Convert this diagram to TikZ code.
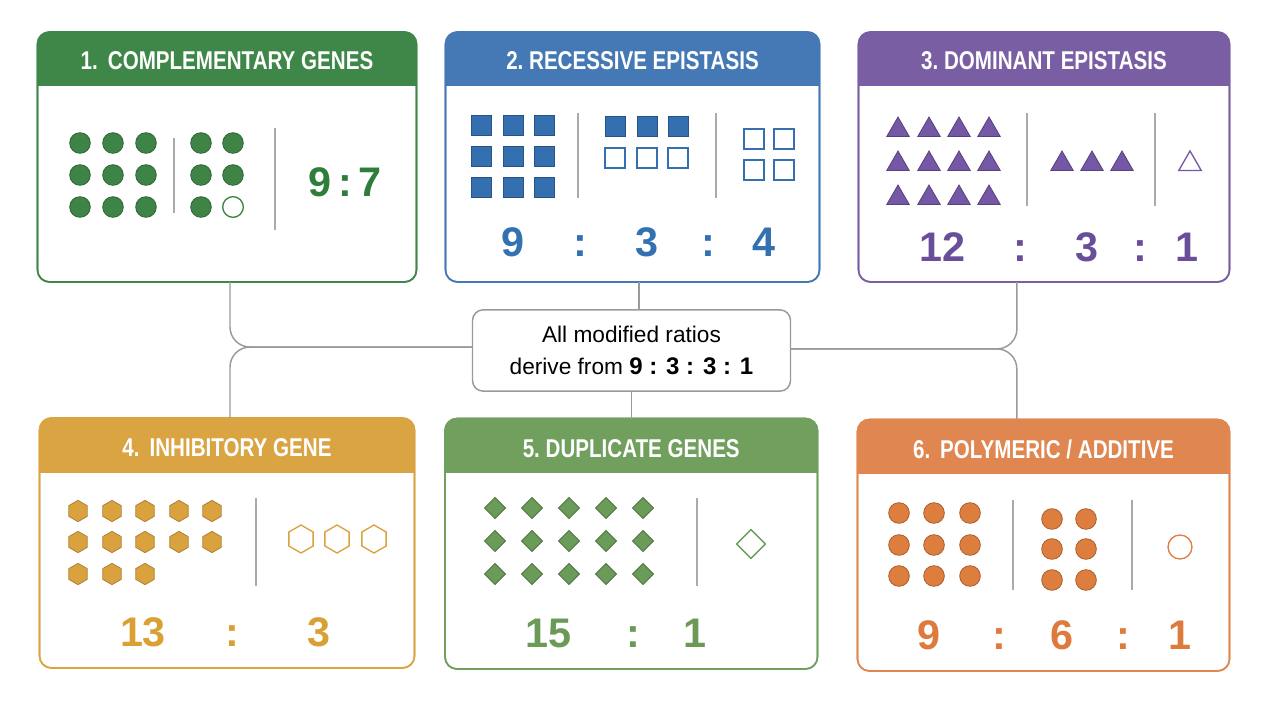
\documentclass[tikz,border=0pt]{standalone}
\usepackage{fontspec}
\setmainfont{Liberation Sans}
\newfontfamily\hdfont[FakeStretch=0.8]{Liberation Sans}
\usetikzlibrary{shapes.geometric,calc}

\definecolor{hA}{HTML}{3F8748}
\definecolor{hB}{HTML}{4479B5}
\definecolor{hC}{HTML}{7A5EA4}
\definecolor{hD}{HTML}{DAA443}
\definecolor{hE}{HTML}{719F5E}
\definecolor{hF}{HTML}{E08650}
\definecolor{nA}{HTML}{2E7D3A}
\definecolor{nB}{HTML}{3471B0}
\definecolor{nC}{HTML}{6A4E9A}
\definecolor{nD}{HTML}{D9A033}
\definecolor{nE}{HTML}{6A9A55}
\definecolor{nF}{HTML}{DD7A3C}
\definecolor{sA}{HTML}{3E8446}
\definecolor{sB}{HTML}{3470B0}
\definecolor{sC}{HTML}{7558A5}
\definecolor{sD}{HTML}{D9A23E}
\definecolor{sE}{HTML}{6B9B58}
\definecolor{sF}{HTML}{DE7E3E}
\definecolor{conngray}{HTML}{9A9A9A}
\definecolor{sepgray}{HTML}{AAAAAA}

\tikzset{
  panelbox/.style={draw=#1, line width=1.2pt, rounded corners=9pt, fill=white, inner sep=0pt, outer sep=0pt},
  hdtext/.style={text=white, font=\hdfont\bfseries\fontsize{19.3}{19.3}\selectfont, inner sep=0pt},
  num/.style={text=#1, font=\bfseries\fontsize{31}{31}\selectfont, inner sep=0pt, text height=22pt, text depth=0pt},
  conn/.style={draw=conngray, line width=1.1pt, rounded corners=15pt},
  sepline/.style={draw=sepgray, line width=1.1pt},
  centerbox/.style={draw=conngray, line width=1.1pt, rounded corners=8pt, fill=white, align=center,
     minimum width=238.5pt, minimum height=61pt, inner sep=0pt, font=\fontsize{17}{23.5}\selectfont},
  fcirc/.style={circle, fill=s#1, draw=s#1!75!black, line width=0.6pt, minimum size=15.5pt, inner sep=0pt},
  ocirc/.style={circle, fill=white, draw=s#1, line width=1pt, minimum size=15.5pt, inner sep=0pt},
  fsq/.style={rectangle, fill=s#1, draw=s#1!75!black, line width=0.6pt, minimum size=15pt, inner sep=0pt},
  osq/.style={rectangle, fill=white, draw=s#1, line width=1pt, minimum size=15pt, inner sep=0pt},
  ftri/.style={regular polygon, regular polygon sides=3, fill=s#1, draw=s#1!75!black, line width=0.6pt, minimum size=19.5pt, inner sep=0pt},
  otri/.style={regular polygon, regular polygon sides=3, fill=white, draw=s#1, line width=1pt, minimum size=19.5pt, inner sep=0pt},
  fhex/.style={regular polygon, regular polygon sides=6, shape border rotate=30, fill=s#1, draw=s#1!80!black, line width=0.6pt, minimum size=16pt, inner sep=0pt},
  ohex/.style={regular polygon, regular polygon sides=6, shape border rotate=30, fill=white, draw=s#1, line width=1pt, minimum size=21pt, inner sep=0pt},
  fdia/.style={diamond, fill=s#1, draw=s#1!75!black, line width=0.6pt, minimum size=16pt, inner sep=0pt},
  odia/.style={diamond, fill=white, draw=s#1, line width=1pt, minimum size=22pt, inner sep=0pt},
}

% name, x1, y1, x2, y2, header bottom, colour, title, title y
\newcommand\mkpanel[9]{%
  \node[panelbox=#7, minimum width={(#4-#2)*0.75pt}, minimum height={(#5-#3)*0.75pt}] (#1) at ({(#2+#4)/2},{(#3+#5)/2}) {};
  \begin{scope}
    \clip[rounded corners=9pt] (#2,#3) rectangle (#4,#5);
    \fill[#7] (#2,#3) rectangle (#4,#6);
  \end{scope}
  \draw[#7, line width=1.2pt, rounded corners=9pt] (#1.south west) rectangle (#1.north east);
  \node[hdtext] (#1-title) at ({(#2+#4)/2},#9) {#8};
}

\begin{document}
\begin{tikzpicture}[x=0.75pt,y=-0.75pt]
\useasboundingbox (0,0) rectangle (1280,720);
\fill[white] (0,0) rectangle (1280,720);

% centre box
\node[centerbox] (c) at (631.5,350.5) {All modified ratios\\derive from {\bfseries\fontsize{18}{23.5}\selectfont 9 : 3 : 3 : 1}};

% panels
\mkpanel{p1}{37.5}{32}{416.5}{282}{86}{hA}{1.\,~COMPLEMENTARY GENES}{61}
\mkpanel{p2}{445.5}{32}{819.5}{282}{86}{hB}{2.~RECESSIVE EPISTASIS}{61}
\mkpanel{p3}{858.5}{32}{1229.5}{282}{86}{hC}{3.~DOMINANT EPISTASIS}{61}
\mkpanel{p4}{39.5}{418}{414.5}{668}{473}{hD}{4.\,~INHIBITORY GENE}{448}
\mkpanel{p5}{445}{418.5}{817.5}{669}{473}{hE}{5.~DUPLICATE GENES}{449}
\mkpanel{p6}{857.5}{419.5}{1229.5}{671}{474}{hF}{6.\,~POLYMERIC / ADDITIVE}{449}

% connectors
\draw[conn] ([xshift=2.25pt]p1.south) |- ([yshift=2.6pt]c.west);
\draw[conn] ([xshift=2.25pt]p4.north) |- ([yshift=2.6pt]c.west);
\draw[conn] ([xshift=4.9pt]p2.south) -- ([xshift=4.9pt]p2.south |- c.north);
\draw[conn] ([xshift=-20.3pt]p3.south) |- ([yshift=1.2pt]c.east);
\draw[conn] ([xshift=-20pt]p6.north) |- ([yshift=1.2pt]c.east);
\draw[conn] (c.south) -- (c.south |- p5.north);

% ---- panel 1
\foreach \x [count=\i] in {80,113,146}
  \foreach \y [count=\j] in {143,175,207}
    \node[fcirc=A] (a1-\i-\j) at (\x,\y) {};
\foreach \y [count=\j] in {143,175,207} \node[fcirc=A] (a2-1-\j) at (201,\y) {};
\foreach \y [count=\j] in {143,175} \node[fcirc=A] (a2-2-\j) at (233,\y) {};
\node[ocirc=A] (a2-2-3) at (233,207) {};
\draw[sepline] (174,138) -- (174,213);
\draw[sepline] (275,128) -- (275,230);
\node[num=nA] (r1) at (345,182) {9\,:\,7};

% ---- panel 2
\foreach \x [count=\i] in {481,513,544}
  \foreach \y [count=\j] in {125,156,187}
    \node[fsq=B] (b1-\i-\j) at (\x,\y) {};
\foreach \x [count=\i] in {615,647,678} {
  \node[fsq=B] (b2-\i-1) at (\x,126) {};
  \node[osq=B] (b2-\i-2) at (\x,158) {};
}
\foreach \x [count=\i] in {754,784}
  \foreach \y [count=\j] in {139,170}
    \node[osq=B] (b3-\i-\j) at (\x,\y) {};
\draw[sepline] (578,113) -- (578,198);
\draw[sepline] (716,113) -- (716,198);
\node[num=nB] (r2a) at (513,242) {9};
\node[num=nB] (r2b) at (580,242) {:};
\node[num=nB] (r2c) at (647,242) {3};
\node[num=nB] (r2d) at (708,242) {:};
\node[num=nB] (r2e) at (764,242) {4};

% ---- panel 3
\foreach \x [count=\i] in {898,929,959,989}
  \foreach \y [count=\j] in {130,164,198}
    \node[ftri=C] (t1-\i-\j) at (\x,\y) {};
\foreach \x [count=\i] in {1062,1092,1122}
  \node[ftri=C] (t2-\i) at (\x,164) {};
\node[otri=C] (t3) at (1190,164) {};
\draw[sepline] (1027,113) -- (1027,206);
\draw[sepline] (1155,113) -- (1155,206);
\node[num=nC] (r3a) at (942,247) {12};
\node[num=nC] (r3b) at (1020,247) {:};
\node[num=nC] (r3c) at (1087,247) {3};
\node[num=nC] (r3d) at (1140,247) {:};
\node[num=nC] (r3e) at (1187,247) {1};

% ---- panel 4
\foreach \x [count=\i] in {78,112,145,179,212} {
  \node[fhex=D] (h1-\i-1) at (\x,511) {};
  \node[fhex=D] (h1-\i-2) at (\x,542) {};
}
\foreach \x [count=\i] in {78,112,145}
  \node[fhex=D] (h1-\i-3) at (\x,574) {};
\foreach \x [count=\i] in {301,337,374}
  \node[ohex=D] (h2-\i) at (\x,539) {};
\draw[sepline] (256,498) -- (256,586);
\node[num=nD] (r4a) at (143,632) {13};
\node[num=nD] (r4b) at (232,632) {:};
\node[num=nD] (r4c) at (319,632) {3};

% ---- panel 5
\foreach \x [count=\i] in {495,532,569,606,643}
  \foreach \y [count=\j] in {508,541,574}
    \node[fdia=E] (d1-\i-\j) at (\x,\y) {};
\node[odia=E] (d2) at (751,544) {};
\draw[sepline] (697,498) -- (697,586);
\node[num=nE] (r5a) at (548,633) {15};
\node[num=nE] (r5b) at (633,633) {:};
\node[num=nE] (r5c) at (695,633) {1};

% ---- panel 6
\foreach \x [count=\i] in {899,934,970}
  \foreach \y [count=\j] in {513,545,576}
    \node[fcirc=F] (o1-\i-\j) at (\x,\y) {};
\foreach \x [count=\i] in {1052,1086}
  \foreach \y [count=\j] in {519,549,580}
    \node[fcirc=F] (o2-\i-\j) at (\x,\y) {};
\node[ocirc=F, minimum size=18pt] (o3) at (1180,547) {};
\draw[sepline] (1013,500) -- (1013,590);
\draw[sepline] (1132,500) -- (1132,590);
\node[num=nF] (r6a) at (929,635) {9};
\node[num=nF] (r6b) at (999,635) {:};
\node[num=nF] (r6c) at (1062,635) {6};
\node[num=nF] (r6d) at (1123,635) {:};
\node[num=nF] (r6e) at (1180,635) {1};
\end{tikzpicture}
\end{document}
